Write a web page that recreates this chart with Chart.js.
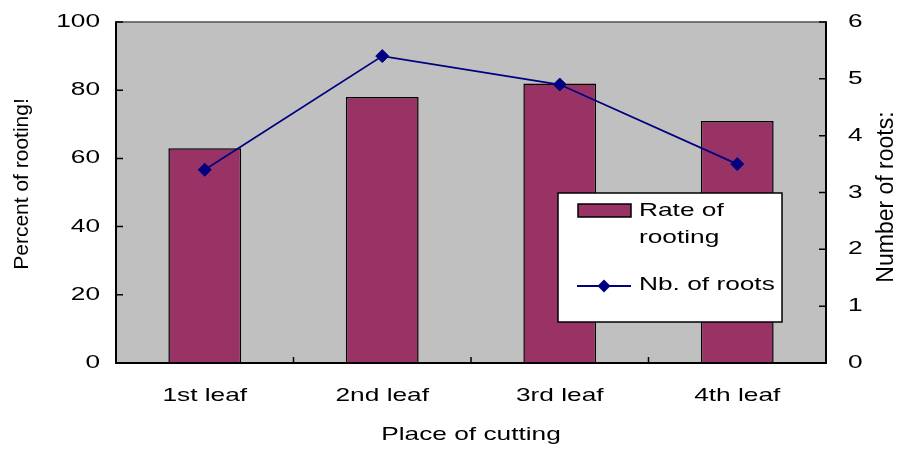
<!DOCTYPE html>
<html>
<head>
<meta charset="utf-8">
<script src="https://cdn.jsdelivr.net/npm/chart.js@4.4.1/dist/chart.umd.min.js"></script>
<style>
  html, body { margin: 0; padding: 0; background: #ffffff; }
  canvas { display: block; }
</style>
</head>
<body>
<canvas id="c" width="898" height="451"></canvas>
<script>
// Rooting of cuttings taken at different leaf positions
const categories = ['1st leaf', '2nd leaf', '3rd leaf', '4th leaf'];
const rootingRate = [63, 78, 82, 71];     // % of cuttings that rooted
const rootCount = [3.4, 5.4, 4.9, 3.5];    // mean number of roots per cutting
const rateTicks = [0, 20, 40, 60, 80, 100];
const countTicks = [0, 1, 2, 3, 4, 5, 6];
const seriesNames = ['Rate of rooting', 'Nb. of roots'];
const legendLines = [['Rate of', 'rooting'], ['Nb. of roots']];
const xTitle = 'Place of cutting';
const leftTitle = 'Percent of rooting!';
const rightTitle = 'Number of roots:';

const FONT_FAMILY = "'Liberation Sans', Arial, sans-serif";
const FONT_SIZE = 18.5;
const GLYPH_STRETCH = 1.42;   // horizontal lettering is drawn wide
const BAR_COLOR = '#993366';
const LINE_COLOR = '#000080';
const PLOT_BG = '#C0C0C0';

const canvas = document.getElementById('c');
const ctx = canvas.getContext('2d');

// Wide lettering: every text call is stretched horizontally about its anchor point.
const baseFill = ctx.fillText.bind(ctx);
const baseMeasure = ctx.measureText.bind(ctx);
ctx.fillText = function (text, x, y, maxWidth) {
  const m = ctx.getTransform();
  const px = m.a * x + m.c * y + m.e;
  const s = GLYPH_STRETCH;
  ctx.save();
  ctx.setTransform(s * m.a, m.b, s * m.c, m.d, s * (m.e - px) + px, m.f);
  if (maxWidth === undefined) baseFill(text, x, y);
  else baseFill(text, x, y, maxWidth / s);
  ctx.restore();
};
ctx.measureText = function (text) {
  const r = baseMeasure(text);
  return {
    width: r.width * GLYPH_STRETCH,
    actualBoundingBoxAscent: r.actualBoundingBoxAscent,
    actualBoundingBoxDescent: r.actualBoundingBoxDescent,
    actualBoundingBoxLeft: r.actualBoundingBoxLeft * GLYPH_STRETCH,
    actualBoundingBoxRight: r.actualBoundingBoxRight * GLYPH_STRETCH
  };
};

function diamond(c, x, y, r) {
  c.beginPath();
  c.moveTo(x, y - r);
  c.lineTo(x + r, y);
  c.lineTo(x, y + r);
  c.lineTo(x - r, y);
  c.closePath();
  c.fill();
}

// vertical axis title, read bottom to top (drawn with plain glyphs)
function verticalTitle(c, text, x, y, size) {
  c.save();
  c.font = `${size}px ${FONT_FAMILY}`;
  c.textAlign = 'center';
  c.textBaseline = 'alphabetic';
  c.translate(x, y);
  c.rotate(-Math.PI / 2);
  baseFill(text, 0, 0);
  c.restore();
}

// fixed axis box sizes; tick labels may overhang the plot edges
function fixBox(size) {
  return function (s) {
    if (s.isHorizontal()) s.height = size; else s.width = size;
    s.paddingTop = 0; s.paddingBottom = 0; s.paddingLeft = 0; s.paddingRight = 0;
  };
}

const plotFrame = {
  id: 'plotFrame',
  beforeDraw(chart) {
    const { ctx: c, chartArea: a } = chart;
    c.save();
    c.fillStyle = PLOT_BG;
    c.fillRect(a.left, a.top, a.right - a.left, a.bottom - a.top);
    c.restore();
  },
  afterDatasetsDraw(chart) {
    const { ctx: c, chartArea: a, scales } = chart;
    c.save();
    // top edge of the plot area
    c.strokeStyle = '#505050';
    c.lineWidth = 1.5;
    c.beginPath();
    c.moveTo(a.left, a.top);
    c.lineTo(a.right, a.top);
    c.stroke();
    // axes
    c.strokeStyle = '#000000';
    c.lineWidth = 2;
    c.beginPath();
    c.moveTo(a.left, a.top - 0.75);
    c.lineTo(a.left, a.bottom);
    c.lineTo(a.right, a.bottom);
    c.lineTo(a.right, a.top - 0.75);
    c.stroke();
    // inward tick marks
    c.lineWidth = 1.5;
    c.beginPath();
    rateTicks.forEach(v => {
      const y = scales.y.getPixelForValue(v);
      c.moveTo(a.left, y); c.lineTo(a.left + 7, y);
    });
    countTicks.forEach(v => {
      const y = scales.y1.getPixelForValue(v);
      c.moveTo(a.right, y); c.lineTo(a.right - 7, y);
    });
    for (let i = 0; i < categories.length - 1; i++) {
      const x = (scales.x.getPixelForValue(i) + scales.x.getPixelForValue(i + 1)) / 2;
      c.moveTo(x, a.bottom); c.lineTo(x, a.bottom - 6);
    }
    c.stroke();
    c.restore();
  },
  afterDraw(chart) {
    const { ctx: c, chartArea: a } = chart;
    c.save();
    c.fillStyle = '#000000';
    c.font = `${FONT_SIZE}px ${FONT_FAMILY}`;
    c.textBaseline = 'alphabetic';

    // axis titles
    c.textAlign = 'center';
    c.fillText(xTitle, (a.left + a.right) / 2, 440);
    verticalTitle(c, leftTitle, 28, 184, 21);
    verticalTitle(c, rightTitle, 892.5, 197, 23);

    // legend box
    const bx = 558, by = 193, bw = 224, bh = 129;
    c.fillStyle = '#ffffff';
    c.fillRect(bx, by, bw, bh);
    c.strokeStyle = '#000000';
    c.lineWidth = 1.5;
    c.strokeRect(bx, by, bw, bh);

    const bars = chart.data.datasets[1];
    const line = chart.data.datasets[0];

    c.fillStyle = bars.backgroundColor;
    c.fillRect(578, 204, 53, 13);
    c.lineWidth = 1.5;
    c.strokeStyle = '#000000';
    c.strokeRect(578, 204, 53, 13);

    c.strokeStyle = line.borderColor;
    c.lineWidth = 1.8;
    c.beginPath();
    c.moveTo(577, 286);
    c.lineTo(631, 286);
    c.stroke();
    c.fillStyle = line.pointBackgroundColor;
    diamond(c, 604, 286, 6.5);

    c.fillStyle = '#000000';
    c.font = `${FONT_SIZE}px ${FONT_FAMILY}`;
    c.textAlign = 'left';
    c.fillText(legendLines[0][0], 639, 216);
    c.fillText(legendLines[0][1], 639, 243);
    c.fillText(legendLines[1][0], 639, 290);
    c.restore();
  }
};

Chart.defaults.font.family = FONT_FAMILY;
Chart.defaults.font.size = FONT_SIZE;
Chart.defaults.color = '#000000';

new Chart(ctx, {
  data: {
    labels: categories,
    datasets: [
      {
        type: 'line',
        label: seriesNames[1],
        data: rootCount,
        yAxisID: 'y1',
        order: 0,
        borderColor: LINE_COLOR,
        borderWidth: 1.8,
        tension: 0,
        pointStyle: 'rectRot',
        pointRadius: 6.5,
        pointBackgroundColor: LINE_COLOR,
        pointBorderColor: LINE_COLOR,
        pointBorderWidth: 1
      },
      {
        type: 'bar',
        label: seriesNames[0],
        data: rootingRate,
        yAxisID: 'y',
        order: 1,
        backgroundColor: BAR_COLOR,
        borderColor: '#000000',
        borderWidth: 1.5,
        borderSkipped: 'bottom',
        barPercentage: 0.41,
        categoryPercentage: 1
      }
    ]
  },
  options: {
    responsive: false,
    animation: false,
    events: [],
    layout: { padding: { top: 22, left: 0, right: 0, bottom: 0 } },
    plugins: {
      legend: { display: false },
      tooltip: { enabled: false },
      title: { display: false }
    },
    scales: {
      x: {
        type: 'category',
        offset: true,
        grid: { display: false, drawTicks: false },
        border: { display: false },
        ticks: { padding: 22, maxRotation: 0, autoSkip: false },
        afterFit: fixBox(88)
      },
      y: {
        type: 'linear',
        position: 'left',
        min: rateTicks[0],
        max: rateTicks[rateTicks.length - 1],
        grid: { display: false, drawTicks: false },
        border: { display: false },
        ticks: { stepSize: rateTicks[1] - rateTicks[0], padding: 16 },
        afterFit: fixBox(116)
      },
      y1: {
        type: 'linear',
        position: 'right',
        min: countTicks[0],
        max: countTicks[countTicks.length - 1],
        grid: { display: false, drawTicks: false },
        border: { display: false },
        ticks: { stepSize: countTicks[1] - countTicks[0], padding: 22 },
        afterFit: fixBox(72)
      }
    }
  },
  plugins: [plotFrame]
});
</script>
</body>
</html>
